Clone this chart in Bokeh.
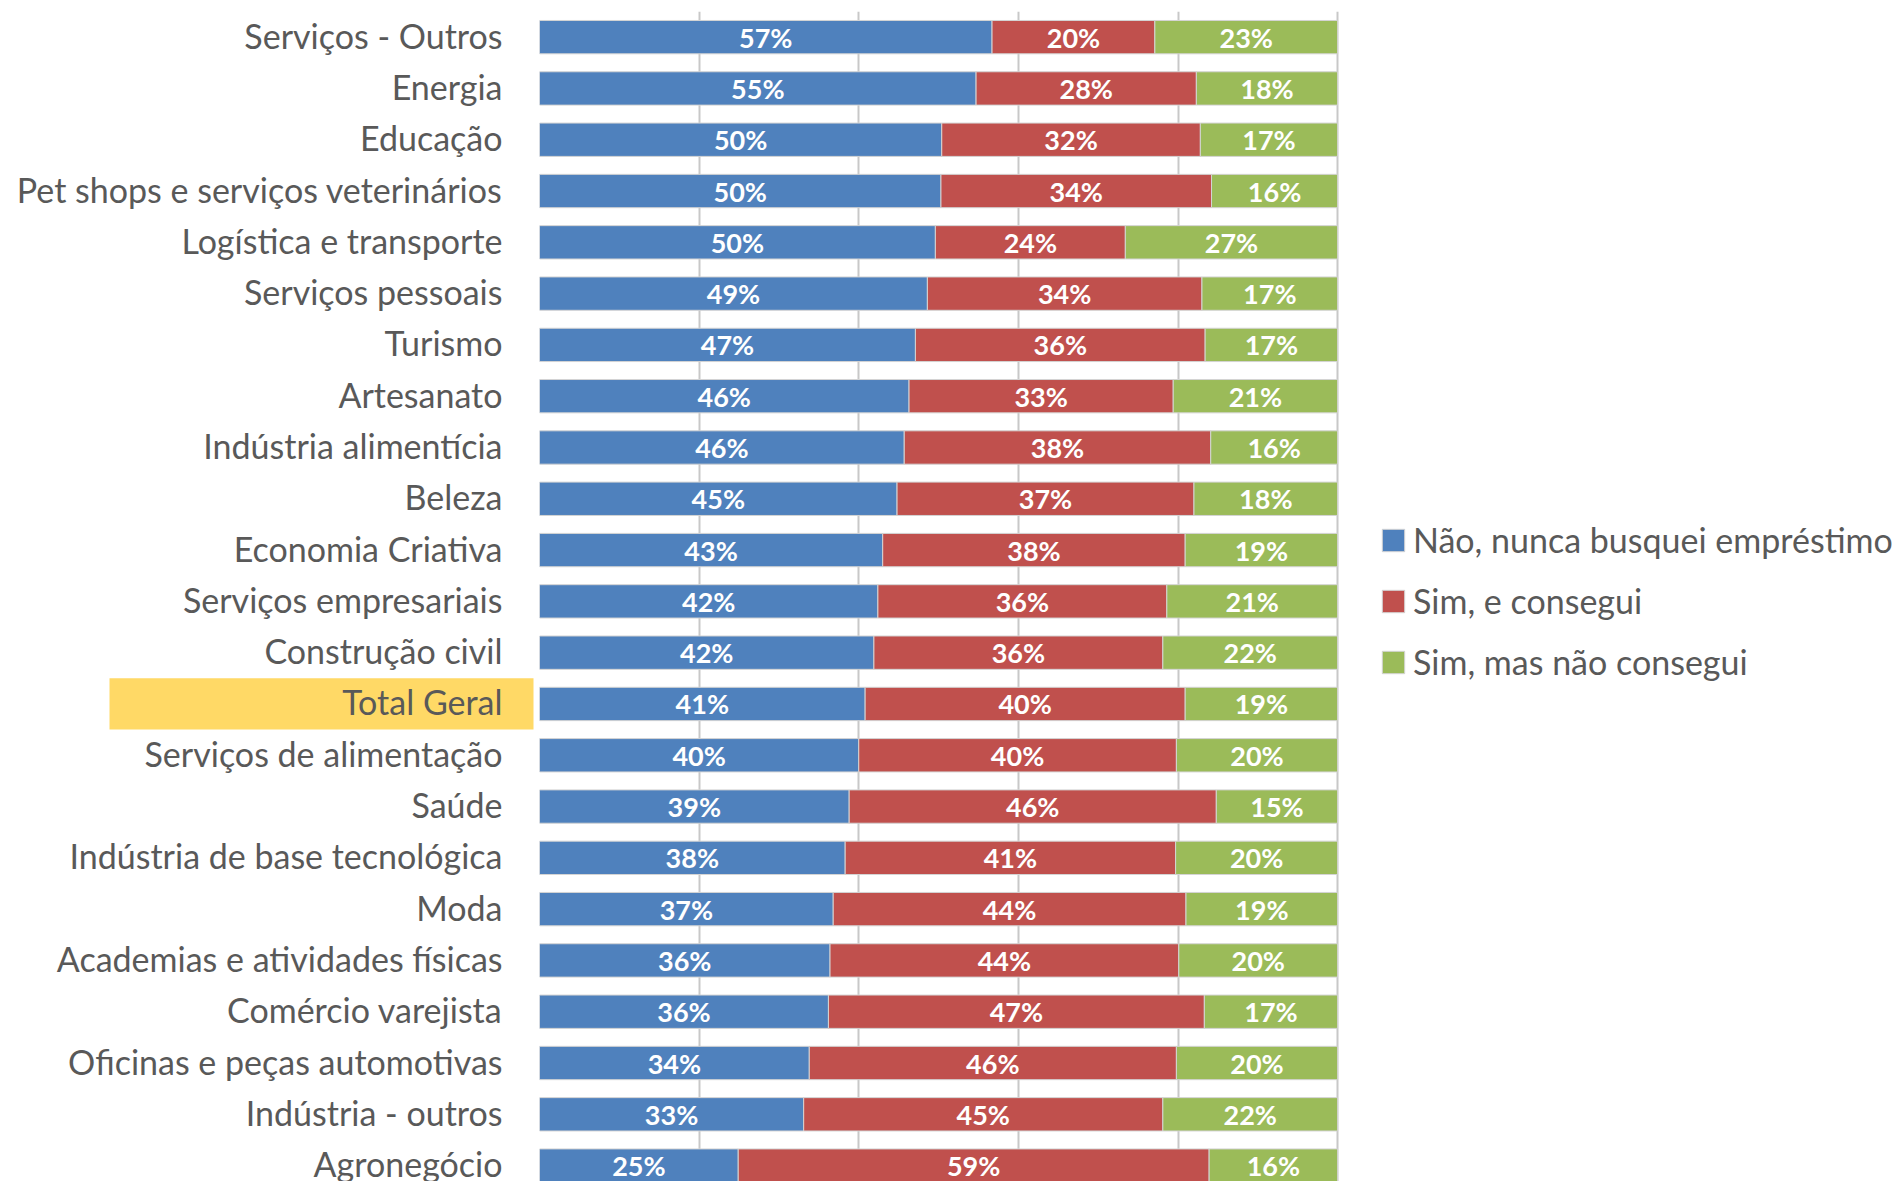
import numpy as np
from bokeh.plotting import figure
from bokeh.layouts import row
from bokeh.models import (ColumnDataSource, Range1d, FixedTicker, Legend, LegendItem)
from bokeh.core.properties import value
from bokeh.embed import file_html
from bokeh.resources import INLINE

categories = [
    "Serviços - Outros", "Energia", "Educação", "Pet shops e serviços veterinários",
    "Logística e transporte", "Serviços pessoais", "Turismo", "Artesanato",
    "Indústria alimentícia", "Beleza", "Economia Criativa", "Serviços empresariais",
    "Construção civil", "Total Geral", "Serviços de alimentação", "Saúde",
    "Indústria de base tecnológica", "Moda", "Academias e atividades físicas",
    "Comércio varejista", "Oficinas e peças automotivas", "Indústria - outros",
    "Agronegócio",
]
nao_busquei = [56.7, 54.7, 50.4, 50.3, 49.6, 48.6, 47.1, 46.3, 45.7, 44.8, 43.0, 42.4,
               41.9, 40.8, 40.0, 38.8, 38.3, 36.8, 36.4, 36.2, 33.8, 33.1, 24.9]
sim_consegui = [20.4, 27.6, 32.4, 33.9, 23.8, 34.4, 36.3, 33.1, 38.4, 37.2, 37.9, 36.2,
                36.2, 40.1, 39.8, 46.0, 41.4, 44.2, 43.7, 47.1, 46.0, 45.0, 59.0]
sim_nao_consegui = [22.9, 17.7, 17.2, 15.8, 26.6, 17.0, 16.6, 20.6, 15.9, 18.0, 19.1, 21.4,
                    21.9, 19.1, 20.2, 15.2, 20.3, 19.0, 19.9, 16.7, 20.2, 21.9, 16.1]
series_names = ["Não, nunca busquei empréstimo", "Sim, e consegui", "Sim, mas não consegui"]
highlight_category = "Total Geral"
x_ticks = [0, 20, 40, 60, 80, 100]

colors = ["#4f81bd", "#c0504d", "#9bbb59"]
FONT = "Lato"
GREY = "#595959"
H = 1181
LABEL_W = 538

ypos = list(range(len(categories)))
y_range = Range1d(22.31, -0.5)

# ---- category label column ----
lab = figure(width=LABEL_W, height=H, output_backend="svg", toolbar_location=None,
             x_range=Range1d(0, LABEL_W), y_range=y_range,
             x_axis_location=None, y_axis_location=None,
             min_border_left=0, min_border_right=0, min_border_top=11, min_border_bottom=0)
lab.outline_line_color = None
lab.grid.visible = False
hi = categories.index(highlight_category)
lab.quad(left=109, right=533, top=hi - 0.5, bottom=hi + 0.5,
         fill_color="#ffd966", line_color=None)
lab.text(x=[502] * len(categories), y=ypos, text=categories, text_color=GREY,
         text_font=value(FONT), text_font_size="34px", y_offset=-2,
         text_align="right", text_baseline="middle")

# ---- bars ----
src = ColumnDataSource(dict(y=ypos, nao=nao_busquei, sc=sim_consegui, snc=sim_nao_consegui))
p = figure(width=1903 - LABEL_W, height=H, output_backend="svg", toolbar_location=None,
           x_range=Range1d(0, 170.9), y_range=y_range,
           x_axis_location=None, y_axis_location=None,
           min_border_left=1, min_border_right=0, min_border_top=11, min_border_bottom=0)
p.outline_line_color = None

p.ygrid.visible = False
p.xgrid.ticker = FixedTicker(ticks=x_ticks)
p.xgrid.grid_line_color = "#c8c8c8"
p.xgrid.grid_line_width = 2

renderers = p.hbar_stack(["nao", "sc", "snc"], y="y", height=0.65, fill_color=colors,
                         line_color="#d4d4d4", line_width=1, source=src)

vals = np.array([nao_busquei, sim_consegui, sim_nao_consegui])
left = np.vstack([np.zeros(len(categories)), np.cumsum(vals, axis=0)[:-1]])
for k in range(3):
    mids = left[k] + vals[k] / 2
    texts = [f"{v:.0f}%" for v in vals[k]]
    p.text(x=list(mids), y=ypos, text=texts, text_color="white",
           text_font=value(FONT), text_font_style="bold", text_font_size="27px",
           text_align="center", text_baseline="middle")

legend = Legend(items=[LegendItem(label=series_names[i], renderers=[renderers[i]])
                       for i in range(3)],
                location=(840, 499), orientation="vertical",
                glyph_width=28, glyph_height=28, label_standoff=6,
                label_text_font=FONT, label_text_font_size="34px", label_text_color=GREY,
                label_height=36, spacing=20, padding=0, margin=0,
                border_line_color=None, background_fill_alpha=0)
p.add_layout(legend)

layout = row(lab, p, spacing=0)
open("out.html", "w").write(file_html(layout, INLINE))
